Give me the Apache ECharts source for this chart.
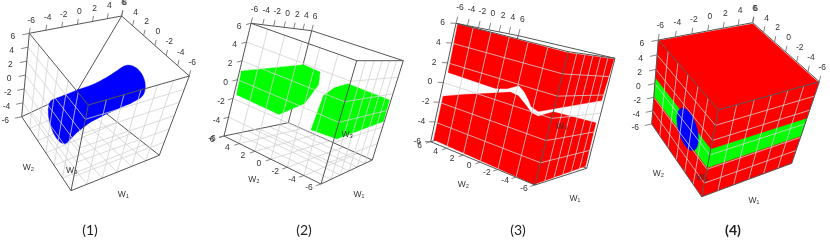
<!DOCTYPE html>
<html><head><meta charset="utf-8"><style>html,body{margin:0;background:#fff}#c{width:830px;height:241px;filter:blur(.35px)}</style>
<script src="https://cdn.jsdelivr.net/npm/echarts@6/dist/echarts.min.js"></script></head>
<body><div id="c"></div>
<script>
// ---------- data (all in W1, W2, W3 units) ----------
const w1Ticks = [-6,-4,-2,0,2,4,6];
const w2Ticks = [-6,-4,-2,0,2,4,6];
const w3Ticks = [-6,-4,-2,0,2,4,6];
const captions = ['(1)','(2)','(3)','(4)'];

// panel 1: blue tube along W1
const tubeW1       = [-5.6,-4,-2,0,2,4,5.4];
const tubeCentreW2 = [-1.1,-0.7,-0.4,-0.3,-0.1,0.1,0.3];
const tubeCentreW3 = [-0.7,-0.6,-0.4,-0.3,-0.2,0,0.2];
const tubeRadius   = [2.4,2.1,1.9,1.8,1.85,2,2.1];

// panel 2: two green regions
const greenLeft = [[-6,5.8,1],[-6,-0.8,3.9],[-6,-2.7,3.8],[-6,-2.9,2.6],[-6,-2,0.4],[-6,0.4,-1.6],[-6,5.7,-1.5]];
const greenRight = [[-6,-3.4,-1.7],[-6,-3.7,1.8],[-6,-4.6,2.9],[-6,-5.8,3.7],[5.5,-6,1.3],[5.7,-6,-1.3],[-5.4,-6,-1.7]];

// panel 3: two red regions either side of a white band
const redUpper = [[-6,5.8,6],[-6,-6,5.9],[5.8,-6,5.9],[5.3,-6,1.4],[-5.1,-6,0.9],[-6,-4.6,0.2],[-6,-3.8,0.4],[-6,-3.4,0.9],[-6,-2.8,1.5],[-6,-2.1,1.9],[-6,-1,1.3],[-6,0.2,1],[-6,5.7,1.1]];
const redLower = [[-6,5.7,-1.3],[-6,3.5,-0.5],[-6,1.3,0.2],[-6,-1.4,1.1],[-6,-2.3,1],[-6,-3.1,0.5],[-6,-4,-0.1],[-6,-4.7,-0.2],[-6,-6,0.6],[5.3,-6,-1],[5.5,-6,-5.7],[-5.7,-6,-5.9],[-6,-6,-6],[-6,5.7,-5.7]];

// panel 4: red faces, green band, blue disc
const redLeftFace  = [[-6,6,6],[-6,-6,6],[-6,-6,-6],[-6,6,-6]];
const redRightFace = [[-6,-6,6],[6,-6,6],[6,-6,-6],[-6,-6,-6]];
const redTopFace   = [[-6,5.9,6],[5.85,5.8,6],[5.85,-6,6],[-6,-6,6]];
const greenBand    = [[-6,6,0.8],[-6,-6,0.8],[6,-6,0.8],[6,-6,-1.8],[-6,-6,-1.8],[-6,6,-1.8]];
const blueDisc     = {w2:-1.3, w3:-0.4, r:2.3};

// ---------- layout (page units) ----------
const layouts = [
 {corners:{A:[29.3,33.3],B:[121.7,16],C:[189.3,76],D:[88.3,105],E:[21.7,116.7],F:[71,190.7],G:[159.3,155.3],H:[77.3,90.7]},depth:[.007,.003,0],
  w1Off:[2,-13],w2Off:[3,-13.5],w2Edge:'BC',w3Off:[-16.5,3.5],
  w1Pos:[123.3,194.3],w2Pos:[28.3,167.3],w3Pos:[71.7,170.7],capPos:[90,230],hidden:true},
 {corners:{A:[251,23.3],B:[311.7,30.7],C:[403.3,60.7],D:[356.7,60.7],E:[224,136],F:[321,184],G:[372.3,160],H:[288.3,122.7]},depth:[.015,.005,0],
  w1Off:[3.5,-14],w2Off:[-12,4],w2Edge:'EF',w3Off:[-12,3],
  w1Pos:[359,194.3],w2Pos:[254,179.3],w3Pos:[347.3,134.3],capPos:[304,230],hidden:true},
 {corners:{A:[456,23.3],B:[518.3,35.7],C:[615,58.3],D:[568.3,51.7],E:[430.7,141.7],F:[535,185],G:[586.7,168.3],H:[486,125]},depth:[.01,.008,0],
  w1Off:[4,-16],w2Off:[-11,3.5],w2Edge:'EF',w3Off:[-13.5,-0.5],
  w1Pos:[575,199],w2Pos:[463.3,184.3],w3Pos:[561.7,126.7],capPos:[518,230],hidden:true},
 {corners:{A:[658.3,40],B:[752.7,22.7],C:[819.3,81.7],D:[718.3,110],E:[651.7,124],F:[701.7,196.7],G:[791.7,163.3],H:[741,90]},depth:[.008,.002,-.006],
  w1Off:[2,-14.5],w2Off:[3,-14],w2Edge:'BC',w3Off:[-16.5,3.5],
  w1Pos:[754,201],w2Pos:[658.3,174],w3Pos:[702.3,177.3],capPos:[733,230],hidden:false,capBold:true}
];
const GRID='#d2d2d2', EDGE='#555555', TICK='#666', TXT='#333333', RED='#ff0000', GREEN='#00ff00', BLUE='#0000ff';
const CORNER_SIGNS=[['A',-1,1,1],['B',1,1,1],['C',1,-1,1],['D',-1,-1,1],['E',-1,1,-1],['H',1,1,-1],['G',1,-1,-1],['F',-1,-1,-1]];
const LIM=6;

function projector(L){
  return function(w){
    let sx=0,sy=0,sw=0;
    for(const [n,a,b,c] of CORNER_SIGNS){
      const t=(1+a*w[0]/LIM)/2*(1+b*w[1]/LIM)/2*(1+c*w[2]/LIM)/2;
      if(!t) continue;
      const z=t*(1+L.depth[0]*a*LIM+L.depth[1]*b*LIM+L.depth[2]*c*LIM);
      sx+=z*L.corners[n][0]; sy+=z*L.corners[n][1]; sw+=z;
    }
    return [sx/sw,sy/sw];
  };
}
function hull(pts){
  const p=pts.slice().sort((a,b)=>a[0]-b[0]||a[1]-b[1]);
  const cr=(o,a,b)=>(a[0]-o[0])*(b[1]-o[1])-(a[1]-o[1])*(b[0]-o[0]);
  const lo=[],up=[];
  for(const q of p){while(lo.length>1&&cr(lo[lo.length-2],lo[lo.length-1],q)<=0)lo.pop();lo.push(q);}
  for(const q of p.slice().reverse()){while(up.length>1&&cr(up[up.length-2],up[up.length-1],q)<=0)up.pop();up.push(q);}
  return lo.slice(0,-1).concat(up.slice(0,-1));
}
function ring(w1,c2,c3,r){
  const out=[];
  for(let i=0;i<36;i++){const t=i/36*2*Math.PI;out.push([w1,c2+r*Math.cos(t),c3+r*Math.sin(t)]);}
  return out;
}

function buildPanel(idx){
  const L=layouts[idx], P=projector(L), items=[];
  const line=(a,b,color,width)=>items.push({k:'line',a,b,color,width});
  const poly=(w,fill)=>items.push({k:'poly',pts:w.map(P),fill});
  const text=(s,pos,font,fill,extra)=>items.push({k:'text',s,pos,font,fill,...extra});
  const edge=(a,b,c,w)=>line(P(a),P(b),c||EDGE,w||1);
  const N=LIM;
  const A=[-N,N,N],B=[N,N,N],C=[N,-N,N],D=[-N,-N,N],E=[-N,N,-N],H=[N,N,-N],G=[N,-N,-N],F=[-N,-N,-N];

  // floor grid and back edges
  for(const t of w1Ticks.slice(1,-1)) edge([t,-N,-N],[t,N,-N],GRID,.8);
  for(const t of w2Ticks.slice(1,-1)) edge([-N,t,-N],[N,t,-N],GRID,.8);
  if(L.hidden){edge(E,H);edge(H,G);edge(H,B);}

  // marks
  if(idx===0){
    const rings=tubeW1.map((w,i)=>ring(w,tubeCentreW2[i],tubeCentreW3[i],tubeRadius[i]).map(P));
    for(let i=0;i<rings.length-1;i++) items.push({k:'poly',pts:hull(rings[i].concat(rings[i+1])),fill:BLUE});
  } else if(idx===1){
    poly(greenLeft,GREEN); poly(greenRight,GREEN);
  } else if(idx===2){
    poly(redUpper,RED); poly(redLower,RED);
  } else {
    poly(redLeftFace,RED); poly(redRightFace,RED); poly(redTopFace,RED); poly(greenBand,GREEN);
    poly(ring(-N,blueDisc.w2,blueDisc.w3,blueDisc.r),BLUE);
  }

  // grids on the two near side faces
  for(const t of w2Ticks.slice(1,-1)) edge([-N,t,N],[-N,t,-N],GRID,.8);
  for(const t of w1Ticks.slice(1,-1)) edge([t,-N,N],[t,-N,-N],GRID,.8);
  for(const t of w3Ticks.slice(1,-1)){edge([-N,N,t],[-N,-N,t],GRID,.8);edge([-N,-N,t],[N,-N,t],GRID,.8);}

  // box
  [[A,B],[B,C],[A,E],[E,F],[F,G],[C,G],[A,D],[D,C],[D,F]].forEach(e=>edge(e[0],e[1]));

  // ticks and labels
  const tickSet=(vals,toW,off)=>{
    for(const v of vals){
      const p=P(toW(v));
      line(p,[p[0]+off[0]*.42,p[1]+off[1]*.42],TICK,.8);
      text(String(v),[p[0]+off[0],p[1]+off[1]],'8.5px "Liberation Sans"',TXT);
    }
  };
  tickSet(w1Ticks,v=>[v,N,N],L.w1Off);
  tickSet(w2Ticks,v=>L.w2Edge==='BC'?[N,v,N]:[-N,v,-N],L.w2Off);
  tickSet(w3Ticks,v=>[-N,N,v],L.w3Off);

  text('W₁',L.w1Pos,'8.5px "Liberation Sans"',TXT);
  text('W₂',L.w2Pos,'8.5px "Liberation Sans"',TXT);
  text('W₃',L.w3Pos,'8.5px "Liberation Sans"',TXT);
  text(captions[idx],L.capPos,(L.capBold?'bold ':'')+'14px Lato','#222');
  return items;
}

const series=layouts.map((L,i)=>{
  const items=buildPanel(i);
  return {
    type:'custom',coordinateSystem:'cartesian2d',clip:false,silent:true,animation:false,
    data:items.map((_,j)=>[j,0]),
    renderItem(params,api){
      const it=items[params.dataIndex];
      if(it.k==='line'){
        const a=api.coord(it.a),b=api.coord(it.b);
        return {type:'line',shape:{x1:a[0],y1:a[1],x2:b[0],y2:b[1]},style:{stroke:it.color,lineWidth:it.width,fill:null}};
      }
      if(it.k==='poly'){
        return {type:'polygon',shape:{points:it.pts.map(p=>api.coord(p))},style:{fill:it.fill,stroke:it.fill,lineWidth:.3}};
      }
      const c=api.coord(it.pos);
      return {type:'text',style:{text:it.s,x:c[0],y:c[1],font:it.font,fill:it.fill,align:'center',verticalAlign:'middle'}};
    }
  };
});

const chart=echarts.init(document.getElementById('c'),null,{renderer:'canvas'});
chart.setOption({
  animation:false,backgroundColor:'#fff',
  grid:{left:0,right:0,top:0,bottom:0},
  xAxis:{type:'value',min:0,max:830,show:false},
  yAxis:{type:'value',min:0,max:241,inverse:true,show:false},
  series
});
</script></body></html>
